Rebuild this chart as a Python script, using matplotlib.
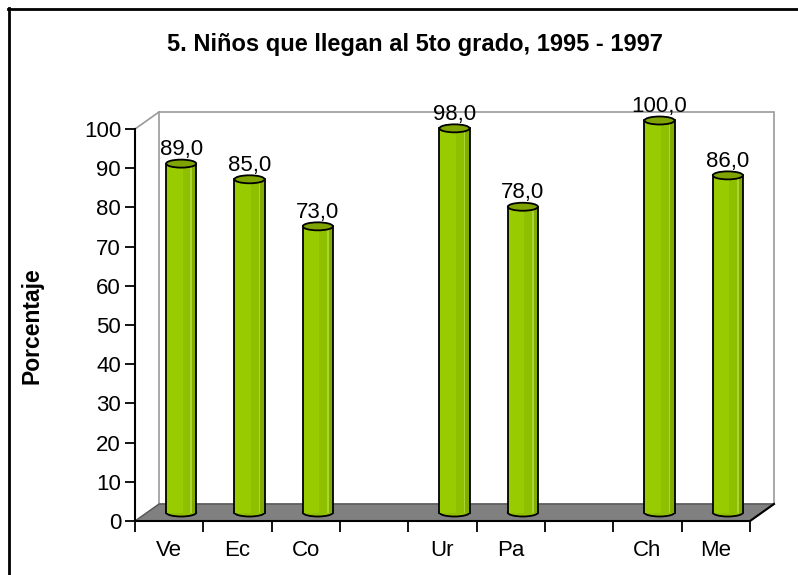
import matplotlib
matplotlib.use("Agg")
import matplotlib.pyplot as plt
import matplotlib.transforms as mtransforms
from matplotlib.patches import Ellipse, Rectangle, Polygon
from matplotlib.lines import Line2D
import numpy as np

categories = ["Ve", "Ec", "Co", "", "Ur", "Pa", "", "Ch", "Me"]
values = [89.0, 85.0, 73.0, None, 98.0, 78.0, None, 100.0, 86.0]
yticks = list(range(0, 101, 10))
title = "5. Niños que llegan al 5to grado, 1995 - 1997"
ylabel = "Porcentaje"

plt.rcParams["font.family"] = ["Liberation Sans", "DejaVu Sans"]

W, H = 798, 575
fig = plt.figure(figsize=(W / 100, H / 100), dpi=100)
ax = fig.add_axes([135 / W, 54 / H, 615 / W, 392 / H])
ax.set_xlim(-0.5, len(categories) - 0.5)
ax.set_ylim(0, 100)
ax.patch.set_visible(False)
for s in ["top", "right"]:
    ax.spines[s].set_visible(False)
ax.spines["left"].set_linewidth(1.5)
ax.spines["bottom"].set_linewidth(1.5)
ax.spines["left"].set_zorder(10)
ax.spines["bottom"].set_zorder(10)

# depth offsets (inches)
back = ax.transData + mtransforms.ScaledTranslation(0.24, 0.17, fig.dpi_scale_trans)
mid = ax.transData + mtransforms.ScaledTranslation(0.12, 0.085, fig.dpi_scale_trans)
ident = mtransforms.IdentityTransform()

x0, x1 = -0.5, len(categories) - 0.5

# back wall
ax.add_patch(Rectangle((x0, 0), x1 - x0, 100, transform=back, fc="white",
                       ec="#999999", lw=1.2, clip_on=False, zorder=1))

# floor
fl = ax.transData.transform((x0, 0))
fr = ax.transData.transform((x1, 0))
br = back.transform((x1, 0))
bl = back.transform((x0, 0))
ax.add_patch(Polygon([fl, fr, br, bl], closed=True, transform=ident,
                     fc="#808080", ec="#555555", lw=1, clip_on=False, zorder=2))
ax.add_line(Line2D([fr[0], br[0]], [fr[1], br[1]], transform=ident,
                   color="black", lw=1.5, clip_on=False, zorder=9))
# top-left depth line
tl = ax.transData.transform((x0, 100))
tb = back.transform((x0, 100))
ax.add_line(Line2D([tl[0], tb[0]], [tl[1], tb[1]], transform=ident,
                   color="#999999", lw=1.2, clip_on=False, zorder=2))

# cylinders
w = 0.44
eh = 8 / (392 / 100)
strips = [(0.0, 0.55, "#99CC00"), (0.55, 0.8, "#8FC000"),
          (0.8, 0.86, "#AAD535"), (0.86, 1.0, "#82AD00")]
for i, v in enumerate(values):
    if v is None:
        continue
    left = i - w / 2
    ax.add_patch(Ellipse((i, 0), w, eh, transform=mid, fc="#8FC000",
                         ec="black", lw=1.3, clip_on=False, zorder=3))
    for f0, f1, c in strips:
        ax.add_patch(Rectangle((left + f0 * w, 0), (f1 - f0) * w, v, transform=mid,
                               fc=c, ec="none", clip_on=False, zorder=4))
    for xe in (left, left + w):
        ax.add_line(Line2D([xe, xe], [0, v], transform=mid, color="black",
                           lw=1.3, clip_on=False, zorder=5))
    ax.add_patch(Ellipse((i, v), w, eh, transform=mid, fc="#7FA300",
                         ec="black", lw=1.3, clip_on=False, zorder=6))
    ax.annotate(f"{v:.1f}".replace(".", ","), xy=(i, v), xycoords=mid,
                xytext=(0, 6), textcoords="offset points", ha="center",
                va="baseline", fontsize=16, zorder=7)

# axes ticks
ax.set_yticks(yticks)
ax.tick_params(axis="y", length=7, width=1.3, labelsize=16, pad=3)
ax.set_xticks(range(len(categories)))
ax.set_xticklabels(categories)
ax.set_xticks(np.arange(x0, x1 + 0.01, 1), minor=True)
ax.tick_params(axis="x", which="major", length=0, labelsize=16, pad=14)
ax.tick_params(axis="x", which="minor", length=8, width=1.3)

fig.text(0.52, 1 - 45 / H, title, ha="center", va="center",
         fontsize=17, fontweight="bold")
fig.text(32 / W, 1 - 326 / H, ylabel, ha="center", va="center",
         rotation=90, fontsize=16.5, fontweight="bold")

# outer frame (left and top only visible)
fig.add_artist(Line2D([9 / W, 9 / W], [0, 1 - 8 / H], transform=fig.transFigure,
                      color="black", lw=2))
fig.add_artist(Line2D([8 / W, 1], [1 - 9 / H, 1 - 9 / H], transform=fig.transFigure,
                      color="black", lw=2))

fig.savefig("out.png", dpi=100)
